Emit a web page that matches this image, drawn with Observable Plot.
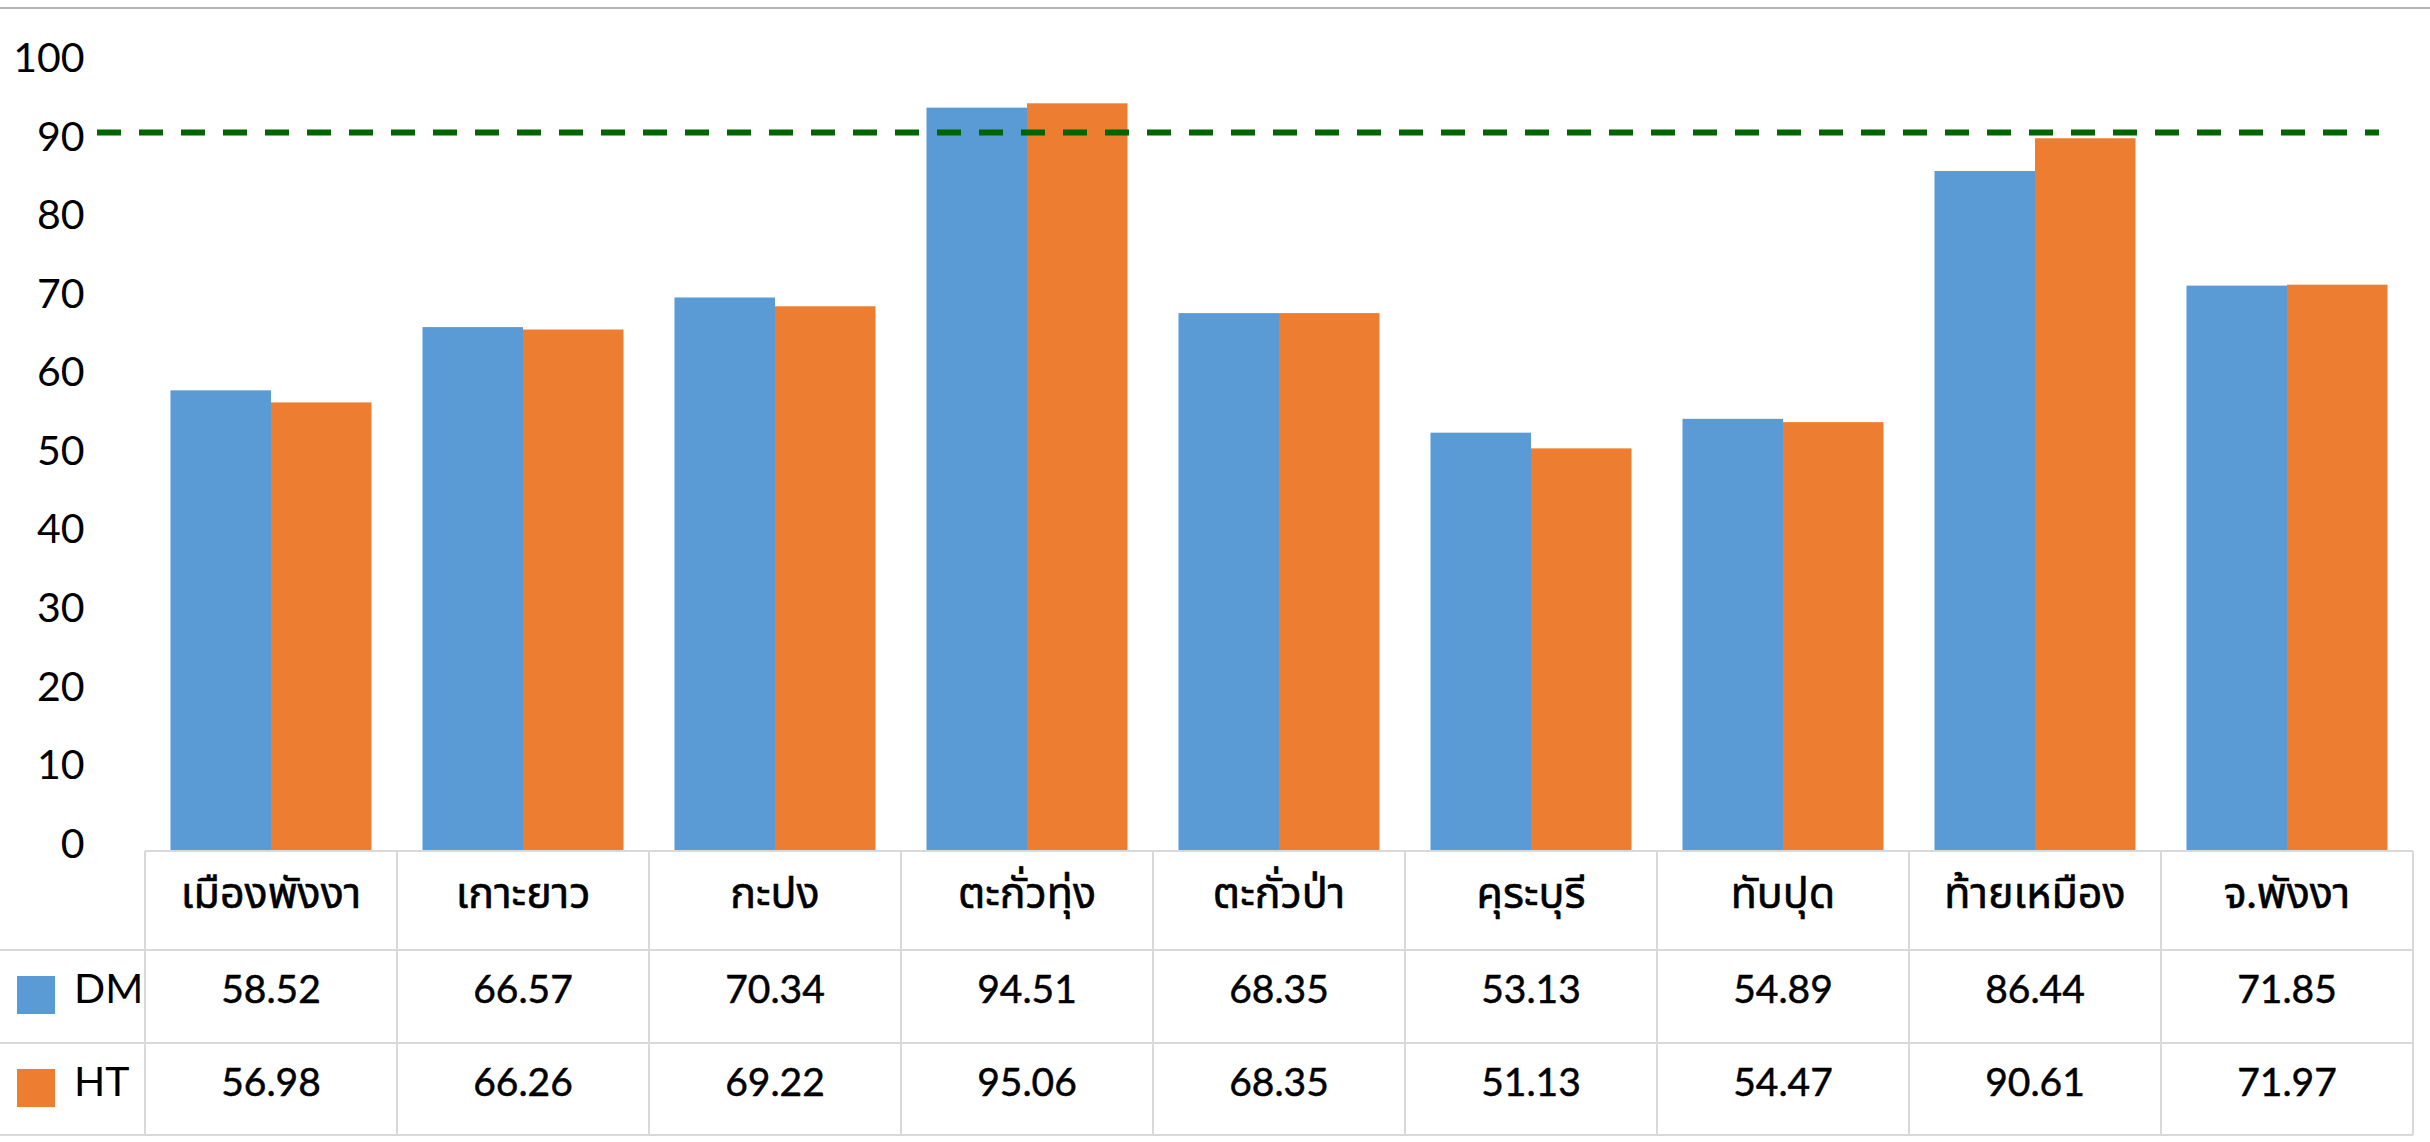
<!DOCTYPE html>
<html>
<head>
<meta charset="utf-8">
<script src="https://cdn.jsdelivr.net/npm/d3@7"></script>
<script src="https://cdn.jsdelivr.net/npm/@observablehq/plot@0.6"></script>
<style>
  html, body { margin: 0; padding: 0; background: #fff; }
  body { width: 2430px; height: 1142px; overflow: hidden; position: relative; font-family: Lato, "Noto Sans Thai", "Noto Sans", sans-serif; }
  #topline { position: absolute; left: 0; top: 7px; width: 2430px; height: 2px; background: #b3b3b3; }
  #chart { position: absolute; left: 0; top: 0; }
  #table { position: absolute; left: 0; top: 0; }
</style>
</head>
<body>
<div id="chart"></div>
<div id="table"></div>
<div id="topline"></div>
<script>
// ---- data ----
const categories = ["เมืองพังงา", "เกาะยาว", "กะปง", "ตะกั่วทุ่ง", "ตะกั่วป่า", "คุระบุรี", "ทับปุด", "ท้ายเหมือง", "จ.พังงา"];
const seriesNames = ["DM", "HT"];
const dmValues = [58.52, 66.57, 70.34, 94.51, 68.35, 53.13, 54.89, 86.44, 71.85];
const htValues = [56.98, 66.26, 69.22, 95.06, 68.35, 51.13, 54.47, 90.61, 71.97];
const targetValue = [91.4];
const yTicks = [0, 10, 20, 30, 40, 50, 60, 70, 80, 90, 100];
const seriesColors = ["#5B9BD5", "#ED7D31"];

const dmRows = categories.map((c, i) => ({category: c, series: seriesNames[0], value: dmValues[i]}));
const htRows = categories.map((c, i) => ({category: c, series: seriesNames[1], value: htValues[i]}));

const W = 2430;
const plot = Plot.plot({
  width: W,
  height: 890,
  marginTop: 64.5,
  marginBottom: 40,
  marginLeft: 97,
  marginRight: 51,
  style: {background: "transparent", color: "#000", fontFamily: "Lato, 'Noto Sans', sans-serif", overflow: "visible"},
  x: {type: "band", domain: categories, range: [145, 2413], padding: 0, axis: null},
  y: {domain: [0, 100], axis: null},
  marks: [
    Plot.axisY({ticks: yTicks, tickSize: 0, tickPadding: 13, fontSize: 41, dy: -6, label: null, fill: "#000"}),
    Plot.barY(dmRows, {x: "category", y: "value", fill: seriesColors[0], insetLeft: 25.5, insetRight: 126}),
    Plot.barY(htRows, {x: "category", y: "value", fill: seriesColors[1], insetLeft: 126, insetRight: 25.5}),
    Plot.ruleY(targetValue, {stroke: "#006400", strokeWidth: 6, strokeDasharray: "24,18"})
  ]
});
document.getElementById("chart").appendChild(plot);

// ---- data table below the chart, aligned with the x scale ----
const xs = plot.scale("x");
const bw = xs.bandwidth;
const left0 = xs.apply(categories[0]);
const right0 = xs.apply(categories[categories.length - 1]) + bw;
const rowTop = 851, rowH1 = 950, rowH2 = 1043, rowBottom = 1135;

const svg = d3.create("svg").attr("width", W).attr("height", 1142)
  .style("font-family", "Lato, 'Noto Sans Thai', 'Noto Sans', sans-serif");
const gridColor = "#d9d9d9";
svg.append("line").attr("x1", left0).attr("x2", right0).attr("y1", rowTop).attr("y2", rowTop)
  .attr("stroke", gridColor).attr("stroke-width", 2);
[rowH1, rowH2, rowBottom].forEach(y => {
  svg.append("line").attr("x1", 0).attr("x2", right0).attr("y1", y).attr("y2", y)
    .attr("stroke", gridColor).attr("stroke-width", 2);
});
categories.map(c => xs.apply(c)).concat([right0]).forEach(x => {
  svg.append("line").attr("x1", x).attr("x2", x).attr("y1", rowTop).attr("y2", rowBottom)
    .attr("stroke", gridColor).attr("stroke-width", 2);
});
categories.forEach(c => {
  svg.append("text").attr("x", xs.apply(c) + bw / 2).attr("y", 908)
    .attr("text-anchor", "middle").attr("font-size", 43).attr("fill", "#000")
    .attr("stroke", "#000").attr("stroke-width", 0.6).text(c);
});
const rowsData = [dmValues, htValues];
const rowBase = [1003, 1096];
const squareTop = [976, 1069];
rowsData.forEach((vals, r) => {
  svg.append("rect").attr("x", 17).attr("y", squareTop[r]).attr("width", 38).attr("height", 38)
    .attr("fill", seriesColors[r]);
  svg.append("text").attr("x", 74).attr("y", rowBase[r]).attr("font-size", 41)
    .attr("fill", "#000").text(seriesNames[r]);
  vals.forEach((v, i) => {
    svg.append("text").attr("x", xs.apply(categories[i]) + bw / 2).attr("y", rowBase[r])
      .attr("text-anchor", "middle").attr("font-size", 39).attr("fill", "#000")
      .attr("stroke", "#000").attr("stroke-width", 0.5).text(v.toFixed(2));
  });
});
document.getElementById("table").appendChild(svg.node());
</script>
</body>
</html>
